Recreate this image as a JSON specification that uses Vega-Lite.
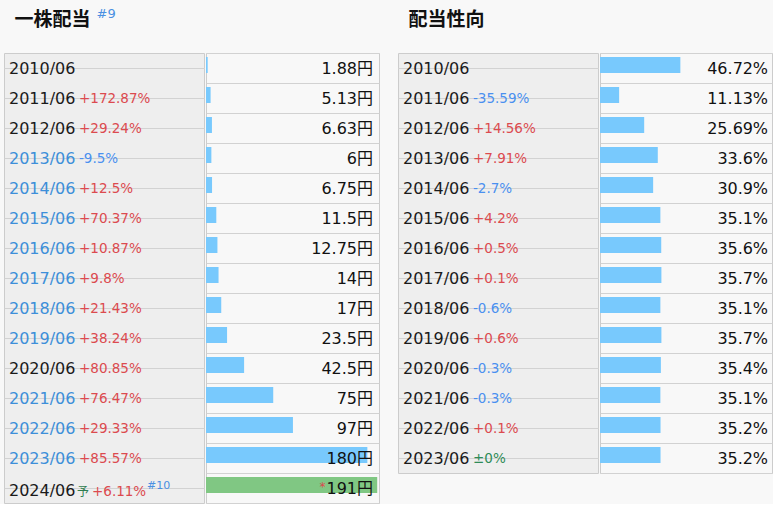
{
  "$schema": "https://vega.github.io/schema/vega-lite/v6.json",
  "background": "#f8f8f8",
  "padding": {"left": 3, "top": 7, "right": 0, "bottom": 0},
  "spacing": 17,
  "title": {
    "text": "#9", "anchor": "start", "dx": 93, "offset": -10,
    "font": "DejaVu Sans", "fontSize": 13, "fontWeight": "normal", "color": "#4a90e2", "baseline": "top"
  },
  "datasets": {
    "div": [
      {"year": "2010/06", "value": 1.88, "change": "", "link": false},
      {"year": "2011/06", "value": 5.13, "change": "+172.87%", "link": false},
      {"year": "2012/06", "value": 6.63, "change": "+29.24%", "link": false},
      {"year": "2013/06", "value": 6, "change": "-9.5%", "link": true},
      {"year": "2014/06", "value": 6.75, "change": "+12.5%", "link": true},
      {"year": "2015/06", "value": 11.5, "change": "+70.37%", "link": true},
      {"year": "2016/06", "value": 12.75, "change": "+10.87%", "link": true},
      {"year": "2017/06", "value": 14, "change": "+9.8%", "link": true},
      {"year": "2018/06", "value": 17, "change": "+21.43%", "link": true},
      {"year": "2019/06", "value": 23.5, "change": "+38.24%", "link": true},
      {"year": "2020/06", "value": 42.5, "change": "+80.85%", "link": false},
      {"year": "2021/06", "value": 75, "change": "+76.47%", "link": true},
      {"year": "2022/06", "value": 97, "change": "+29.33%", "link": true},
      {"year": "2023/06", "value": 180, "change": "+85.57%", "link": true},
      {"year": "2024/06", "value": 191, "change": "+6.11%", "link": false, "forecast": true, "note": "予", "ref": "#10", "est": "*"}
    ],
    "payout": [
      {"year": "2010/06", "value": 46.72, "change": ""},
      {"year": "2011/06", "value": 11.13, "change": "-35.59%"},
      {"year": "2012/06", "value": 25.69, "change": "+14.56%"},
      {"year": "2013/06", "value": 33.6, "change": "+7.91%"},
      {"year": "2014/06", "value": 30.9, "change": "-2.7%"},
      {"year": "2015/06", "value": 35.1, "change": "+4.2%"},
      {"year": "2016/06", "value": 35.6, "change": "+0.5%"},
      {"year": "2017/06", "value": 35.7, "change": "+0.1%"},
      {"year": "2018/06", "value": 35.1, "change": "-0.6%"},
      {"year": "2019/06", "value": 35.7, "change": "+0.6%"},
      {"year": "2020/06", "value": 35.4, "change": "-0.3%"},
      {"year": "2021/06", "value": 35.1, "change": "-0.3%"},
      {"year": "2022/06", "value": 35.2, "change": "+0.1%"},
      {"year": "2023/06", "value": 35.2, "change": "±0%"}
    ]
  },
  "hconcat": [
    {
      "title": {
        "text": "一株配当", "anchor": "start", "dx": 11, "offset": 23,
        "font": "Noto Sans CJK JP", "fontSize": 19, "fontWeight": "bold", "color": "#111111", "baseline": "top"
      },
      "spacing": 0,
      "hconcat": [
        {
          "width": 200, "height": 450,
          "view": {"fill": "#eeeeee", "stroke": "#cccccc"},
          "data": {"name": "div"},
          "encoding": {
            "y": {"field": "year", "type": "ordinal", "sort": "ascending",
              "scale": {"paddingInner": 0, "paddingOuter": 0}}
          },
          "layer": [
            {
              "transform": [{"filter": "!datum.forecast"}],
              "mark": {"type": "text", "align": "left", "baseline": "middle", "dx": -95, "dy": 1, "fontSize": 16, "font": "DejaVu Sans"},
              "encoding": {
                "text": {"field": "year"},
                "color": {"condition": {"test": "datum.link", "value": "#3d8fd9"}, "value": "#1a1a1a"}
              }
            },
            {
              "transform": [{"filter": "!datum.forecast"}],
              "mark": {"type": "text", "align": "left", "baseline": "middle", "dx": -25, "dy": 1, "fontSize": 13.5, "font": "DejaVu Sans"},
              "encoding": {
                "text": {"field": "change"},
                "color": {"condition": [
                  {"test": "substring(datum.change,0,1)==='+'", "value": "#dc4a4f"},
                  {"test": "substring(datum.change,0,1)==='-'", "value": "#4a90f0"}
                ], "value": "#2e8b57"}
              }
            },
            {
              "transform": [{"filter": "datum.forecast"}],
              "mark": {"type": "text", "align": "left", "baseline": "middle", "dx": -95, "dy": 3, "fontSize": 16, "font": "DejaVu Sans", "color": "#1a1a1a"},
              "encoding": {"text": {"field": "year"}}
            },
            {
              "transform": [{"filter": "datum.forecast"}],
              "mark": {"type": "text", "align": "left", "baseline": "middle", "dx": -27, "dy": 4, "fontSize": 12, "font": "Noto Sans CJK JP", "color": "#2e7d4f"},
              "encoding": {"text": {"field": "note"}}
            },
            {
              "transform": [{"filter": "datum.forecast"}],
              "mark": {"type": "text", "align": "left", "baseline": "middle", "dx": -12, "dy": 4, "fontSize": 13.5, "font": "DejaVu Sans", "color": "#dc4a4f"},
              "encoding": {"text": {"field": "change"}}
            },
            {
              "transform": [{"filter": "datum.forecast"}],
              "mark": {"type": "text", "align": "left", "baseline": "middle", "dx": 43, "dy": -2, "fontSize": 11, "font": "DejaVu Sans", "color": "#4a90e2"},
              "encoding": {"text": {"field": "ref"}}
            }
          ]
        },
        {
          "width": 173, "height": 450,
          "view": {"fill": "#f8f8f8", "stroke": "#cccccc"},
          "data": {"name": "div"},
          "encoding": {
            "y": {"field": "year", "type": "ordinal", "sort": "ascending",
              "scale": {"paddingInner": 0, "paddingOuter": 0}}
          },
          "layer": [
            {
              "mark": {"type": "bar", "height": 16, "yOffset": -3},
              "encoding": {
                "x": {"field": "value", "type": "quantitative", "scale": {"domain": [0, 193], "nice": false}, "axis": null},
                "color": {"condition": {"test": "datum.forecast", "value": "#80c783"}, "value": "#78c9fd"}
              }
            },
            {
              "mark": {"type": "text", "align": "right", "baseline": "middle", "dx": 64.5, "dy": 1, "fontSize": 16, "font": "DejaVu Sans", "color": "#111111"},
              "encoding": {"text": {"field": "value", "type": "quantitative", "format": "~r"}}
            },
            {
              "mark": {"type": "text", "align": "right", "baseline": "middle", "dx": 80.5, "dy": 1, "fontSize": 16, "font": "Noto Sans CJK JP", "color": "#111111"},
              "encoding": {"text": {"value": "円"}}
            },
            {
              "transform": [{"filter": "datum.forecast"}],
              "mark": {"type": "text", "align": "right", "baseline": "middle", "dx": 33, "dy": -1, "fontSize": 12, "font": "DejaVu Sans", "color": "#dc4a4f"},
              "encoding": {"text": {"field": "est"}}
            }
          ]
        }
      ]
    },
    {
      "title": {
        "text": "配当性向", "anchor": "start", "dx": 11, "offset": 23,
        "font": "Noto Sans CJK JP", "fontSize": 19, "fontWeight": "bold", "color": "#111111", "baseline": "top"
      },
      "spacing": 0,
      "hconcat": [
        {
          "width": 200, "height": 420,
          "view": {"fill": "#eeeeee", "stroke": "#cccccc"},
          "data": {"name": "payout"},
          "encoding": {
            "y": {"field": "year", "type": "ordinal", "sort": "ascending",
              "scale": {"paddingInner": 0, "paddingOuter": 0}}
          },
          "layer": [
            {
              "mark": {"type": "text", "align": "left", "baseline": "middle", "dx": -95, "dy": 1, "fontSize": 16, "font": "DejaVu Sans", "color": "#1a1a1a"},
              "encoding": {"text": {"field": "year"}}
            },
            {
              "mark": {"type": "text", "align": "left", "baseline": "middle", "dx": -25, "dy": 1, "fontSize": 13.5, "font": "DejaVu Sans"},
              "encoding": {
                "text": {"field": "change"},
                "color": {"condition": [
                  {"test": "substring(datum.change,0,1)==='+'", "value": "#dc4a4f"},
                  {"test": "substring(datum.change,0,1)==='-'", "value": "#4a90f0"}
                ], "value": "#2e8b57"}
              }
            }
          ]
        },
        {
          "width": 172, "height": 420,
          "view": {"fill": "#f8f8f8", "stroke": "#cccccc"},
          "data": {"name": "payout"},
          "encoding": {
            "y": {"field": "year", "type": "ordinal", "sort": "ascending",
              "scale": {"paddingInner": 0, "paddingOuter": 0}}
          },
          "layer": [
            {
              "mark": {"type": "bar", "height": 16, "yOffset": -3, "color": "#78c9fd"},
              "encoding": {
                "x": {"field": "value", "type": "quantitative", "scale": {"domain": [0, 100], "nice": false}, "axis": null}
              }
            },
            {
              "mark": {"type": "text", "align": "right", "baseline": "middle", "dx": 67, "dy": 1, "fontSize": 16, "font": "DejaVu Sans", "color": "#111111"},
              "encoding": {"text": {"field": "value", "type": "quantitative", "format": "~r"}}
            },
            {
              "mark": {"type": "text", "align": "right", "baseline": "middle", "dx": 82, "dy": 1, "fontSize": 16, "font": "DejaVu Sans", "color": "#111111"},
              "encoding": {"text": {"value": "%"}}
            }
          ]
        }
      ]
    }
  ],
  "config": {
    "axisY": {"labels": false, "ticks": false, "domain": false, "title": null, "grid": true,
      "gridColor": "#d2d2d2", "gridOpacity": 1, "tickBand": "extent", "minExtent": 0, "maxExtent": 0}
  }
}
